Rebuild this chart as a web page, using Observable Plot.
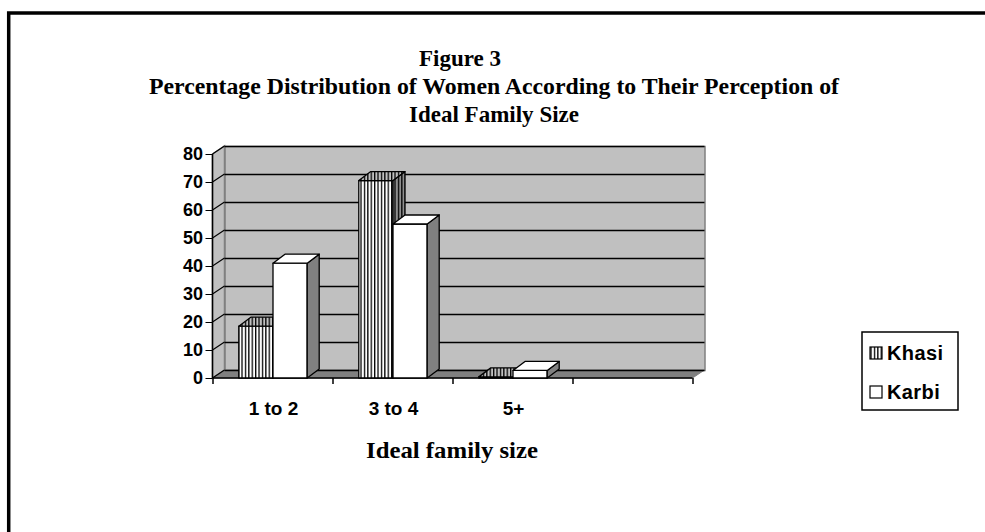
<!DOCTYPE html>
<html><head><meta charset="utf-8">
<script src="https://cdn.jsdelivr.net/npm/d3@7"></script>
<script src="https://cdn.jsdelivr.net/npm/@observablehq/plot@0.6"></script>
<style>body{margin:0;background:#fff} #chart svg{display:block}</style>
</head><body><div id="chart"></div>
<script>
// ---- data ----
const categories = ["1 to 2", "3 to 4", "5+"];
const series = ["Khasi", "Karbi"];
const khasi = [18.5, 70.5, 0.4];
const karbi = [41, 55, 2.7];
const yTicks = [0, 10, 20, 30, 40, 50, 60, 70, 80];
const titleLines = ["Figure 3", "Percentage Distribution of Women According to Their Perception of", "Ideal Family Size"];
const xTitle = "Ideal family size";
const emptySlot = " ";

const data = [];
categories.forEach((c, i) => {
  data.push({cat: c, series: "Khasi", value: khasi[i]});
  data.push({cat: c, series: "Karbi", value: karbi[i]});
});

// ---- style ----
const SANS = "'Liberation Sans', Arial, sans-serif";
const SERIF = "'Liberation Serif', 'Times New Roman', serif";
const WALL = [12, -8];
const DEPTH = [12, -9];
const NS = "http://www.w3.org/2000/svg";
function el(tag, attrs) { const e = document.createElementNS(NS, tag); for (const k in attrs) e.setAttribute(k, attrs[k]); return e; }
const pts = a => a.map(p => p.join(",")).join(" ");

// walls / floor / left-wall connectors
const decor = Plot.ruleY(yTicks, {
  y: d => d,
  render(index, scales, values, dims) {
    const g = el("g", {});
    const L = dims.marginLeft, R = dims.width - dims.marginRight;
    const T = dims.marginTop, B = dims.height - dims.marginBottom;
    const [dx, dy] = WALL;
    g.appendChild(el("polygon", {points: pts([[L, T], [L + dx, T + dy], [L + dx, B + dy], [L, B]]), fill: "#c0c0c0", stroke: "#808080", "stroke-width": 1.5}));
    g.appendChild(el("polygon", {points: pts([[L, B], [R, B], [R + dx, B + dy], [L + dx, B + dy]]), fill: "#808080", stroke: "#808080", "stroke-width": 1}));
    for (const i of index) {
      const y = values.y[i];
      g.appendChild(el("line", {x1: L, y1: y, x2: L + dx, y2: y + dy, stroke: "#000", "stroke-width": 1.2}));
    }
    return g;
  }
});

// front axis lines + boundary ticks
const frontAxis = Plot.barY(categories.concat([emptySlot]).map(c => ({cat: c})), {
  x: "cat", y: () => 0,
  render(index, scales, values, dims) {
    const g = el("g", {});
    const L = dims.marginLeft, R = dims.width - dims.marginRight;
    const T = dims.marginTop, B = dims.height - dims.marginBottom;
    const bw = scales.x.bandwidth();
    g.appendChild(el("line", {x1: L, y1: T, x2: L, y2: B, stroke: "#000", "stroke-width": 1.5}));
    g.appendChild(el("line", {x1: L, y1: B, x2: R, y2: B, stroke: "#000", "stroke-width": 1.5}));
    const xs = Array.from(index, i => values.x[i]);
    xs.push(xs[xs.length - 1] + bw);
    for (const x of xs) g.appendChild(el("line", {x1: x, y1: B, x2: x, y2: B + 6, stroke: "#000", "stroke-width": 1.5}));
    return g;
  }
});

function bars3d(name, fills) {
  return Plot.barY(data.filter(d => d.series === name), {
    x: "cat", y: "value",
    render(index, scales, values) {
      const g = el("g", {});
      const bw = scales.x.bandwidth();
      const w = bw * 0.285;
      const [dx, dy] = DEPTH;
      for (const i of index) {
        const cx = values.x[i] + bw / 2;
        const x1 = name === "Khasi" ? cx - w : cx, x2 = x1 + w;
        const top = Math.min(values.y1[i], values.y2[i]), bot = Math.max(values.y1[i], values.y2[i]);
        const sw = {stroke: "#000", "stroke-width": 1.3, "stroke-linejoin": "round"};
        g.appendChild(el("polygon", {points: pts([[x1, top], [x2, top], [x2, bot], [x1, bot]]), fill: fills[0], ...sw}));
        g.appendChild(el("polygon", {points: pts([[x2, top], [x2 + dx, top + dy], [x2 + dx, bot + dy], [x2, bot]]), fill: fills[2], ...sw}));
        g.appendChild(el("polygon", {points: pts([[x1, top], [x2, top], [x2 + dx, top + dy], [x1 + dx, top + dy]]), fill: fills[1], ...sw}));
      }
      return g;
    }
  });
}

const plot = Plot.plot({
  width: 985, height: 532,
  marginLeft: 212.5, marginRight: 292.5, marginTop: 154, marginBottom: 154,
  style: {fontFamily: SANS, background: "#fff", overflow: "visible"},
  x: {type: "band", domain: categories.concat([emptySlot]), padding: 0, label: null},
  y: {domain: [0, 80], label: null},
  marks: [
    Plot.frame({fill: "#c0c0c0", stroke: "#808080", strokeWidth: 1.5, dx: WALL[0], dy: WALL[1]}),
    decor,
    Plot.ruleY(yTicks, {dx: WALL[0], dy: WALL[1], stroke: "#000", strokeWidth: 1.5}),
    frontAxis,
    bars3d("Khasi", ["url(#stripeW)", "url(#stripeL)", "url(#stripeD)"]),
    bars3d("Karbi", ["#fff", "#fff", "#808080"]),
    Plot.axisY({ticks: yTicks, tickSize: 7, tickPadding: 3, fontSize: 18, fontWeight: "bold", label: null}),
    Plot.axisX({tickSize: 0, tickPadding: 23, fontSize: 19, fontWeight: "bold", label: null})
  ]
});

document.getElementById("chart").appendChild(plot);
const svg = d3.select(plot);

// patterns
const defs = svg.insert("defs", ":first-child");
[["stripeW", "#fff"], ["stripeL", "#c0c0c0"], ["stripeD", "#909090"]].forEach(([id, bg]) => {
  const p = defs.append("pattern").attr("id", id).attr("patternUnits", "userSpaceOnUse").attr("width", 3.4).attr("height", 10);
  p.append("rect").attr("width", 3.4).attr("height", 10).attr("fill", bg);
  p.append("rect").attr("width", 1.3).attr("height", 10).attr("fill", "#000");
});

// outer border
svg.append("rect").attr("x", 8.7).attr("y", 13).attr("width", 1000).attr("height", 540)
  .attr("fill", "none").attr("stroke", "#000").attr("stroke-width", 3.5);

// titles
const tl = [[460, 66, null], [494, 94, 690], [494, 122, 170]];
titleLines.forEach((t, i) => {
  const tx = svg.append("text").attr("x", tl[i][0]).attr("y", tl[i][1]).attr("text-anchor", "middle")
    .attr("font-family", SERIF).attr("font-weight", "bold").attr("font-size", 23).attr("fill", "#000").text(t);
  if (tl[i][2]) tx.attr("textLength", tl[i][2]).attr("lengthAdjust", "spacingAndGlyphs");
});
svg.append("text").attr("x", 452).attr("y", 458).attr("text-anchor", "middle")
  .attr("font-family", SERIF).attr("font-weight", "bold").attr("font-size", 23).attr("fill", "#000")
  .attr("textLength", 172).attr("lengthAdjust", "spacingAndGlyphs").text(xTitle);

// legend
const lg = svg.append("g");
lg.append("rect").attr("x", 862).attr("y", 332).attr("width", 96).attr("height", 78)
  .attr("fill", "#fff").attr("stroke", "#000").attr("stroke-width", 1.5);
series.forEach((s, i) => {
  const y = 347 + i * 39;
  lg.append("rect").attr("x", 870).attr("y", y).attr("width", 12).attr("height", 12)
    .attr("fill", i === 0 ? "url(#stripeW)" : "#fff").attr("stroke", "#000").attr("stroke-width", 1.2);
  lg.append("text").attr("x", 887).attr("y", y + 13).attr("text-anchor", "start").attr("font-family", SANS).attr("font-weight", "bold")
    .attr("font-size", 20).attr("letter-spacing", 0.4).attr("fill", "#000").text(s);
});
</script></body></html>
